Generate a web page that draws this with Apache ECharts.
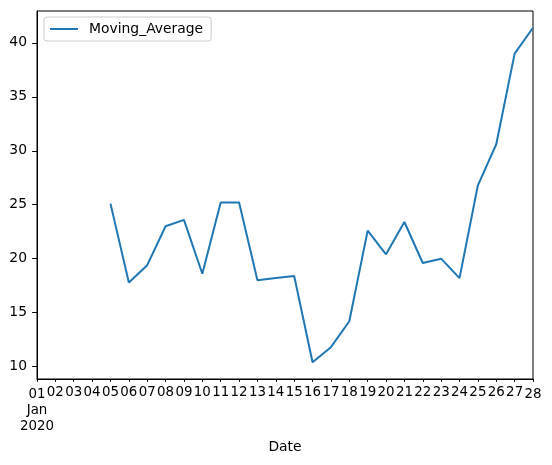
<!DOCTYPE html>
<html>
<head>
<meta charset="utf-8">
<script src="https://cdn.jsdelivr.net/npm/echarts@6/dist/echarts.min.js"></script>
<style>
html,body{margin:0;padding:0;background:#fff;}
#chart{width:552px;height:465px;}
</style>
</head>
<body>
<div id="chart"></div>
<script>
const dates = ["01","02","03","04","05","06","07","08","09","10","11","12","13","14","15","16","17","18","19","20","21","22","23","24","25","26","27","28"];
const movingAverage = [null,null,null,null,25.1,17.8,19.4,23.0,23.6,18.6,25.2,25.2,18.0,18.2,18.4,10.4,11.8,14.2,22.6,20.4,23.4,19.6,20.0,18.2,26.8,30.6,39.0,41.4];
const yTicks = [10,15,20,25,30,35,40];
const seriesName = "Moving_Average";
const xTitle = "Date";

const chart = echarts.init(document.getElementById('chart'));
const font = 'DejaVu Sans';
const fs = 13.9;
const xfs = 13.4;
const lastIdx = dates.length - 1;
chart.setOption({
  animation: false,
  backgroundColor: '#fff',
  textStyle: {fontFamily: font},
  grid: {left: 37, right: 19, top: 11, bottom: 86, show: true, borderColor: '#000', borderWidth: 1, backgroundColor: 'transparent'},
  legend: {
    left: 44, top: 17,
    padding: [5, 8, 5, 6],
    borderColor: '#cccccc', borderWidth: 1, borderRadius: 3,
    itemWidth: 28, itemHeight: 2,
    icon: 'rect',
    textStyle: {fontFamily: font, fontSize: fs, color: '#000', padding: [0, 0, 0, 6]},
    data: [seriesName]
  },
  xAxis: {
    type: 'category',
    data: dates,
    boundaryGap: false,
    name: xTitle,
    nameLocation: 'middle',
    nameGap: 61,
    nameTextStyle: {fontFamily: font, fontSize: fs, color: '#000'},
    axisLine: {show: true, lineStyle: {color: '#000', width: 1}},
    axisTick: {show: true, length: 2.8, alignWithLabel: true, interval: 0, lineStyle: {color: '#000'}},
    axisLabel: {
      interval: 0, margin: 7, color: '#000', fontFamily: font, fontSize: xfs,
      formatter: function (v, i) {
        if (i === 0) return '{maj|' + v + '}\n{maj|Jan}\n{maj|2020}';
        if (i === lastIdx) return '{maj|' + v + '}';
        return v;
      },
      rich: {maj: {fontFamily: font, fontSize: xfs, color: '#000', padding: [2, 0, 0, 0], lineHeight: 16}}
    },
    splitLine: {show: false}
  },
  yAxis: {
    type: 'value',
    min: 8.85, max: 42.95,
    axisLine: {show: true, lineStyle: {color: '#000', width: 1}},
    axisTick: {show: true, length: 4.9, customValues: yTicks, lineStyle: {color: '#000'}},
    axisLabel: {customValues: yTicks, margin: 10, color: '#000', fontFamily: font, fontSize: fs},
    splitLine: {show: false}
  },
  series: [{
    name: seriesName,
    type: 'line',
    data: movingAverage,
    symbol: 'none',
    showSymbol: false,
    connectNulls: false,
    color: '#1f77b4',
    lineStyle: {color: '#1f77b4', width: 2}
  }]
});
</script>
</body>
</html>
